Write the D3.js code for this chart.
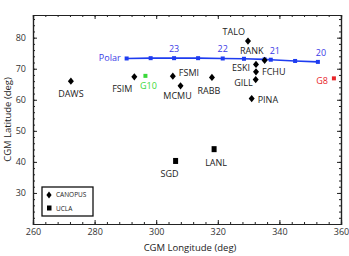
<!DOCTYPE html>
<html>
<head>
<meta charset="utf-8">
<script src="https://cdn.jsdelivr.net/npm/d3@7"></script>
<style>
  body { margin: 0; background: #fff; }
  svg text { font-family: "Open Sans", "DejaVu Sans", sans-serif; fill: #222; }
</style>
</head>
<body>
<svg id="chart"></svg>
<script>
// CANOPUS magnetometer stations (diamonds)
const canopusNames = ["DAWS", "FSIM", "FSMI", "MCMU", "RABB", "TALO", "RANK", "ESKI", "FCHU", "GILL", "PINA"];
const canopusLon   = [272.3, 292.9, 305.4, 307.9, 318.1, 329.8, 335.2, 332.4, 332.4, 332.3, 331.0];
const canopusLat   = [66.0, 67.4, 67.6, 64.5, 67.2, 78.9, 72.7, 71.4, 69.0, 66.5, 60.4];

// UCLA stations (squares)
const uclaNames = ["SGD", "LANL"];
const uclaLon   = [306.3, 318.8];
const uclaLat   = [40.3, 44.1];

// GOES footprints
const goesNames = ["G10", "G8"];
const goesLon   = [296.5, 357.7];
const goesLat   = [67.7, 66.9];

// Polar footprint track, with hour marks
const polarLon = [290.4, 298.2, 305.8, 313.6, 321.6, 328.5, 335.2, 337.2, 345.1, 352.5];
const polarLat = [73.3, 73.4, 73.4, 73.4, 73.3, 73.2, 73.0, 72.9, 72.5, 72.2];
const hourLabels = ["23", "22", "21", "20"];
const hourIndex  = [2, 4, 7, 9];

const xTicks = [260, 280, 300, 320, 340, 360];
const yTicks = [30, 40, 50, 60, 70, 80];

const W = 349, H = 256;
const margin = {top: 15, right: 8, bottom: 32, left: 33};
const width = W - margin.left - margin.right;
const height = H - margin.top - margin.bottom;

const svg = d3.select("#chart").attr("width", W).attr("height", H);
const g = svg.append("g").attr("transform", `translate(${margin.left},${margin.top})`);

const x = d3.scaleLinear().domain([260, 360]).range([0, width]);
const y = d3.scaleLinear().domain([20, 87.3]).range([height, 0]);

// minor ticks (inward) on all four sides
const xMinor = d3.range(260, 361, 4);
const yMinor = d3.range(20, 88, 2);
g.append("g").attr("transform", `translate(0,${height})`)
  .call(d3.axisBottom(x).tickValues(xMinor).tickSize(-2).tickFormat(""));
g.append("g")
  .call(d3.axisTop(x).tickValues(xMinor).tickSize(-2).tickFormat(""));
g.append("g")
  .call(d3.axisLeft(y).tickValues(yMinor).tickSize(-2).tickFormat(""));
g.append("g").attr("transform", `translate(${width},0)`)
  .call(d3.axisRight(y).tickValues(yMinor).tickSize(-2).tickFormat(""));

// major ticks
g.append("g").attr("transform", `translate(0,${height})`)
  .call(d3.axisBottom(x).tickValues(xTicks).tickSize(-4).tickPadding(5).tickFormat(d3.format("d")));
g.append("g")
  .call(d3.axisTop(x).tickValues(xTicks).tickSize(-4).tickFormat(""));
g.append("g")
  .call(d3.axisLeft(y).tickValues(yTicks).tickSize(-4).tickPadding(7));
g.append("g").attr("transform", `translate(${width},0)`)
  .call(d3.axisRight(y).tickValues(yTicks).tickSize(-4).tickFormat(""));

g.selectAll(".domain").attr("stroke", "#222").attr("stroke-width", 1.2);
g.selectAll(".tick line").attr("stroke", "#222");
g.selectAll(".tick text").style("font-size", "9px").style("fill", "#333");

// axis titles
svg.append("text")
  .attr("x", margin.left + width / 2 + 3).attr("y", H - 5)
  .attr("text-anchor", "middle").style("font-size", "9.5px")
  .text("CGM Longitude (deg)");
svg.append("text")
  .attr("transform", "rotate(-90)")
  .attr("x", -(margin.top + height / 2)).attr("y", 11)
  .attr("text-anchor", "middle").style("font-size", "9.5px")
  .text("CGM Latitude (deg)");

// label placement: [anchor, dx, dy]
const labelPos = {
  DAWS: ["middle", 0, 16], FSIM: ["middle", -12, 15], FSMI: ["start", 6, 0],
  MCMU: ["middle", -3, 13], RABB: ["middle", -3, 17], TALO: ["end", -3, -6],
  RANK: ["end", -1, -6], ESKI: ["end", -6, 7], FCHU: ["start", 6, 3],
  GILL: ["end", -3, 6], PINA: ["start", 6, 4],
  SGD: ["middle", -6, 16], LANL: ["middle", 2, 17],
  G10: ["middle", 3, 13], G8: ["end", -6, 6]
};

const diamond = "M0,-3.6L3,0L0,3.6L-3,0Z";

function label(name, px, py, color) {
  const p = labelPos[name];
  g.append("text")
    .attr("x", px + p[1]).attr("y", py + p[2])
    .attr("text-anchor", p[0])
    .style("font-size", "9px")
    .style("fill", color)
    .text(name);
}

// Polar track
const line = d3.line().x(d => x(d[0])).y(d => y(d[1]));
const polarPts = polarLon.map((lon, i) => [lon, polarLat[i]]);
g.append("path").datum(polarPts)
  .attr("d", line).attr("fill", "none")
  .attr("stroke", "#1e3cf0").attr("stroke-width", 1.6);
g.selectAll(".polar").data(polarPts).join("rect")
  .attr("class", "polar")
  .attr("x", d => x(d[0]) - 2).attr("y", d => y(d[1]) - 2)
  .attr("width", 4).attr("height", 4)
  .attr("fill", "#1e3cf0");
g.append("text")
  .attr("x", x(polarLon[0]) - 6).attr("y", y(polarLat[0]) + 3)
  .attr("text-anchor", "end").style("font-size", "9px").style("fill", "#3a3ae6")
  .text("Polar");
const hourDx = [0, 0, 4, 3];
hourLabels.forEach((h, k) => {
  const i = hourIndex[k];
  g.append("text")
    .attr("x", x(polarLon[i]) + hourDx[k]).attr("y", y(polarLat[i]) - 6)
    .attr("text-anchor", "middle").style("font-size", "9px").style("fill", "#3a3ae6")
    .text(h);
});

// CANOPUS diamonds
canopusNames.forEach((n, i) => {
  const px = x(canopusLon[i]), py = y(canopusLat[i]);
  g.append("path").attr("d", diamond)
    .attr("transform", `translate(${px},${py})`).attr("fill", "#000");
  label(n, px, py, "#222");
});

// UCLA squares
uclaNames.forEach((n, i) => {
  const px = x(uclaLon[i]), py = y(uclaLat[i]);
  g.append("rect").attr("x", px - 2.5).attr("y", py - 3)
    .attr("width", 5).attr("height", 6).attr("fill", "#000");
  label(n, px, py, "#222");
});

// GOES
const goesColor = ["#3ad83a", "#e8262a"];
goesNames.forEach((n, i) => {
  const px = x(goesLon[i]), py = y(goesLat[i]);
  g.append("rect").attr("x", px - 2).attr("y", py - 2)
    .attr("width", 4).attr("height", 4).attr("fill", goesColor[i]);
  label(n, px, py, goesColor[i]);
});

// legend
const leg = svg.append("g").attr("transform", "translate(42,187)");
leg.append("rect").attr("width", 51).attr("height", 29)
  .attr("fill", "#fff").attr("stroke", "#111").attr("stroke-width", 1.3);
leg.append("path").attr("d", "M0,-3.5L2.6,0L0,3.5L-2.6,0Z")
  .attr("transform", "translate(7,8)").attr("fill", "#000");
leg.append("text").attr("x", 14).attr("y", 10).style("font-size", "6.5px").text("CANOPUS");
leg.append("rect").attr("x", 5).attr("y", 18.5).attr("width", 4.5).attr("height", 5).attr("fill", "#000");
leg.append("text").attr("x", 14).attr("y", 23.5).style("font-size", "6.5px").text("UCLA");
</script>
</body>
</html>
